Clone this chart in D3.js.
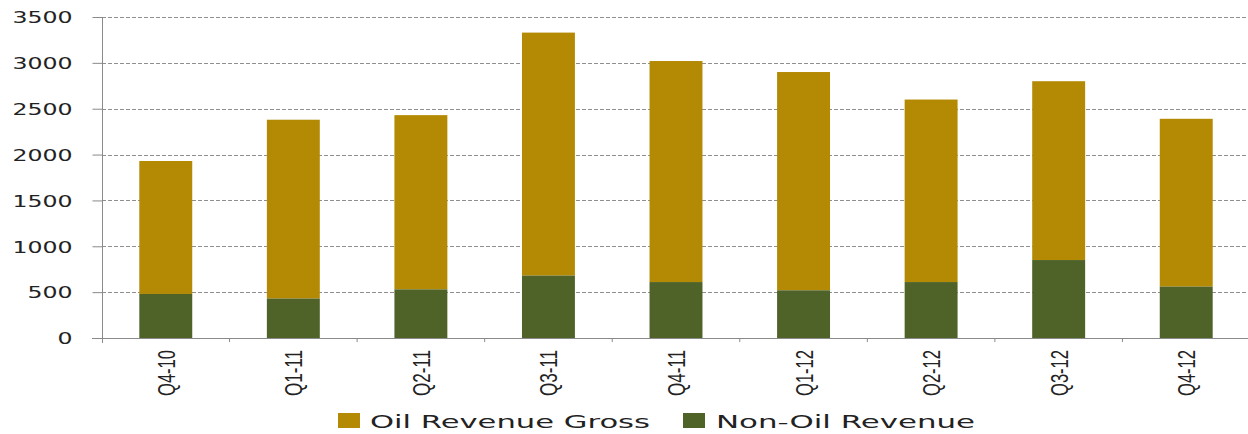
<!DOCTYPE html>
<html>
<head>
<meta charset="utf-8">
<script src="https://cdn.jsdelivr.net/npm/d3@7"></script>
<style>
  html, body { margin: 0; padding: 0; background: #fff; }
  svg { display: block; }
</style>
</head>
<body>
<svg id="chart" width="1248" height="434"></svg>
<script>
// Quarterly revenue
const quarters = ["Q4-10", "Q1-11", "Q2-11", "Q3-11", "Q4-11", "Q1-12", "Q2-12", "Q3-12", "Q4-12"];
const totalRevenue = [1930, 2380, 2430, 3330, 3020, 2900, 2600, 2800, 2390];
const nonOilRevenue = [480, 430, 530, 680, 610, 520, 610, 850, 560];
const yTicks = [0, 500, 1000, 1500, 2000, 2500, 3000, 3500];
const seriesNames = ["Oil Revenue Gross", "Non-Oil Revenue"];

const colors = { oil: "#B48A05", nonOil: "#4F6228" };
const svg = d3.select("#chart");

const plotLeft = 102, plotRight = 1250, plotTop = 17, plotBottom = 338;
const x = d3.scaleBand().domain(quarters).range([plotLeft, plotRight]).paddingInner(0.585).paddingOuter(0.2925);
const y = d3.scaleLinear().domain([0, 3500]).range([plotBottom, plotTop]);

// Horizontal grid lines
svg.append("g").selectAll("line").data(yTicks.filter(d => d > 0)).join("line")
  .attr("x1", plotLeft).attr("x2", plotRight)
  .attr("y1", d => Math.round(y(d)) + 0.5).attr("y2", d => Math.round(y(d)) + 0.5)
  .attr("stroke", "#8f8f8f").attr("stroke-width", 1).attr("stroke-dasharray", "4,2");

// Stacked bars: non-oil at the base, oil on top
const rows = quarters.map((q, i) => ({ q, total: totalRevenue[i], nonOil: nonOilRevenue[i] }));
svg.append("g").selectAll("rect").data(rows).join("rect")
  .attr("x", d => x(d.q)).attr("width", x.bandwidth())
  .attr("y", d => y(d.total)).attr("height", d => y(d.nonOil) - y(d.total))
  .attr("fill", colors.oil);
svg.append("g").selectAll("rect").data(rows).join("rect")
  .attr("x", d => x(d.q)).attr("width", x.bandwidth())
  .attr("y", d => y(d.nonOil)).attr("height", d => y(0) - y(d.nonOil))
  .attr("fill", colors.nonOil);

// Y axis
const yAxis = svg.append("g").attr("transform", `translate(${plotLeft + 0.5},0)`)
  .call(d3.axisLeft(y).tickValues(yTicks).tickSize(10).tickPadding(20).tickFormat(d3.format("d")));
yAxis.select(".domain").attr("stroke", "#8a8a8a").attr("d", `M0,${plotTop}V${plotBottom + 5}`);
yAxis.selectAll(".tick line").attr("stroke", "#8a8a8a");
yAxis.selectAll(".tick text")
  .attr("font-family", "DejaVu Sans").attr("font-size", 16).attr("fill", "#222")
  .attr("dy", "0.36em")
  .attr("textLength", d => String(d).length * 15)
  .attr("lengthAdjust", "spacingAndGlyphs");

// X axis line with ticks between categories
const xg = svg.append("g");
xg.append("line").attr("x1", plotLeft - 10).attr("x2", plotRight)
  .attr("y1", plotBottom + 0.5).attr("y2", plotBottom + 0.5).attr("stroke", "#8a8a8a");
const step = x.step();
xg.selectAll("line.sep").data(d3.range(1, quarters.length + 1)).join("line").attr("class", "sep")
  .attr("x1", k => plotLeft + k * step).attr("x2", k => plotLeft + k * step)
  .attr("y1", plotBottom).attr("y2", plotBottom + 4).attr("stroke", "#8a8a8a");

// Rotated category labels (wide glyphs)
xg.selectAll("text").data(quarters).join("text")
  .attr("transform", d => `translate(${x(d) + x.bandwidth() / 2 + 9},350) scale(1.45,1) rotate(-90)`)
  .attr("text-anchor", "end")
  .attr("font-family", "Liberation Sans").attr("font-size", 16).attr("fill", "#222")
  .attr("textLength", 46).attr("lengthAdjust", "spacingAndGlyphs")
  .text(d => d);

// Legend
const legend = [
  { name: seriesNames[0], color: colors.oil, sx: 338, tx: 370, tl: 280 },
  { name: seriesNames[1], color: colors.nonOil, sx: 683, tx: 716, tl: 259 }
];
const lg = svg.append("g");
lg.selectAll("rect").data(legend).join("rect")
  .attr("x", d => d.sx).attr("y", 413).attr("width", 22).attr("height", 15)
  .attr("fill", d => d.color);
lg.selectAll("text").data(legend).join("text")
  .attr("x", d => d.tx).attr("y", 428)
  .attr("font-family", "DejaVu Sans").attr("font-size", 18).attr("fill", "#222")
  .attr("textLength", d => d.tl).attr("lengthAdjust", "spacingAndGlyphs")
  .text(d => d.name);
</script>
</body>
</html>
